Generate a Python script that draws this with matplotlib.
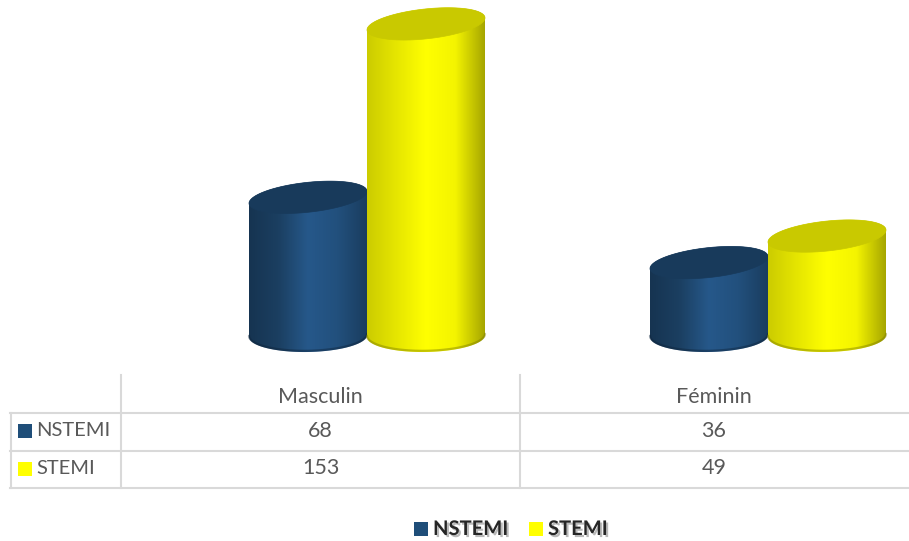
import numpy as np
import matplotlib.pyplot as plt
from matplotlib.patches import Polygon, Rectangle
from matplotlib.colors import LinearSegmentedColormap
import matplotlib.patheffects as pe

plt.rcParams['font.family'] = ['Lato', 'DejaVu Sans']

# data
categories = ['Masculin', 'Féminin']
series = ['NSTEMI', 'STEMI']
nstemi = [68, 36]
stemi = [153, 49]
values = [nstemi, stemi]

colors = ['#1f4e79', '#ffff00']
# horizontal shading across each cylinder: left edge -> highlight -> right edge
body_shades = [['#163451', '#1b3f61', '#26588a', '#22507d', '#1a3d5f'],
               ['#cccc00', '#e6e600', '#ffff00', '#f4f400', '#a6a600']]
cap_shades = ['#183a5b', '#c9c900']
rim_shades = ['#0e243b', '#7d7d00']
grid_col = '#d9d9d9'
txt_col = '#595959'

W, H = 909, 541
fig = plt.figure(figsize=(W / 100, H / 100), dpi=100)

# plot area: x in category units, y in value units
ax = fig.add_axes([121 / W, 1 - 362 / H, (W - 121) / W, 362 / H])
px_x = 401.0   # pixels per category
px_y = 2.04    # pixels per value unit
base_px = 336
ax.axis('off')

width = 118 / px_x
a = width / 2
cap_b = 15 / px_y
cap_s = 6 / px_y
bot_b = 16 / px_y
bot_s = 1 / px_y


def cylinder(cx, h, k, z):
    t_front = np.linspace(np.pi, 2 * np.pi, 120)
    t_back = np.linspace(0, np.pi, 120)
    bx = cx + a * np.cos(t_front)
    by = bot_b * np.sin(t_front) + bot_s * np.cos(t_front)
    tx = cx + a * np.cos(t_back)
    ty = h + cap_b * np.sin(t_back) + cap_s * np.cos(t_back)
    body = np.vstack([np.column_stack([bx, by]), np.column_stack([tx, ty])])
    clip = Polygon(body, closed=True, transform=ax.transData)

    cmap = LinearSegmentedColormap.from_list('side%d' % k, body_shades[k])
    grad = np.linspace(0, 1, 256)[None, :]
    im = ax.imshow(grad, cmap=cmap, aspect='auto', interpolation='bilinear',
                   extent=(cx - a, cx + a, -bot_b - bot_s - 2, h + cap_b + cap_s + 2),
                   zorder=z)
    im.set_clip_path(clip)

    # darker rim along the bottom
    ax.plot(bx, by + 0.6, color=rim_shades[k], lw=1.6, alpha=0.45,
            solid_capstyle='round', zorder=z + 0.1)

    t = np.linspace(0, 2 * np.pi, 200)
    cap = np.column_stack([cx + a * np.cos(t),
                           h + cap_b * np.sin(t) + cap_s * np.cos(t)])
    ax.add_patch(Polygon(cap, closed=True, facecolor=cap_shades[k],
                         edgecolor=cap_shades[k], lw=0.5, zorder=z + 0.2))


for i in range(len(categories)):
    for k in range(len(series)):
        cx = i + (k - 0.5) * width
        cylinder(cx, values[k][i], k, 2 + k)

ax.set_xlim((121 - 367) / px_x, (W - 367) / px_x)
ax.set_ylim(-(362 - base_px) / px_y, base_px / px_y)

# data table and legend, drawn in pixel space
tab = fig.add_axes([0, 0, 1, 1])
tab.set_xlim(0, W)
tab.set_ylim(H, 0)
tab.axis('off')

lw = 1.5
for y in [413, 451, 488]:
    tab.plot([10, W], [y, y], color=grid_col, lw=lw)
tab.plot([121, 121], [375, 488], color=grid_col, lw=lw)
tab.plot([520, 520], [375, 488], color=grid_col, lw=lw)
tab.plot([11, 11], [413, 488], color=grid_col, lw=lw)

fs = 15.5
col_x = [320.5, 714]
row_y = [431, 468.5]
for i, cat in enumerate(categories):
    tab.text(col_x[i], 397, cat, ha='center', va='center', fontsize=fs, color=txt_col)
for k, name in enumerate(series):
    tab.add_patch(Rectangle((18, row_y[k] - 7), 14, 14, facecolor=colors[k], lw=0))
    tab.text(36, row_y[k], name, ha='left', va='center', fontsize=14.5, color=txt_col)
    for i in range(len(categories)):
        tab.text(col_x[i], row_y[k], str(values[k][i]), ha='center', va='center',
                 fontsize=fs, color=txt_col)

shadow = [pe.SimplePatchShadow(offset=(1.5, -1.5), shadow_rgbFace='#808080', alpha=0.55),
          pe.Normal()]
leg_x = [414, 529]
for k, name in enumerate(series):
    tab.add_patch(Rectangle((leg_x[k], 522), 14, 14, facecolor=colors[k], lw=0))
    tab.text(leg_x[k] + 19, 529, name, ha='left', va='center', fontsize=14.5,
             fontweight='bold', color='#262626', path_effects=shadow)

fig.savefig('out.png', dpi=100)
